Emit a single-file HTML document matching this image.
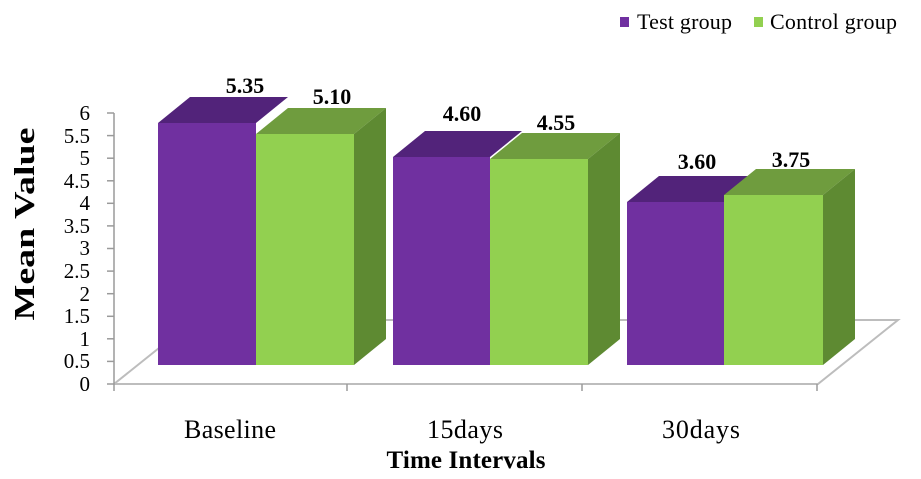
<!DOCTYPE html>
<html><head><meta charset="utf-8"><style>body{margin:0;background:#fff}svg{display:block}</style></head><body>
<svg width="921" height="479" viewBox="0 0 921 479" xmlns="http://www.w3.org/2000/svg" font-family="Liberation Serif, serif">
<g stroke="#bdbdbd" stroke-width="2" fill="none">
<polyline points="114,384 194,320 898,320 818,384 114,384"/>
</g>
<g stroke="#9a9a9a" stroke-width="1.5">
<line x1="114" y1="113" x2="114" y2="384"/>
<line x1="107" y1="113" x2="114" y2="113"/><line x1="107" y1="135.6" x2="114" y2="135.6"/><line x1="107" y1="158.2" x2="114" y2="158.2"/><line x1="107" y1="180.8" x2="114" y2="180.8"/><line x1="107" y1="203.3" x2="114" y2="203.3"/><line x1="107" y1="225.9" x2="114" y2="225.9"/><line x1="107" y1="248.5" x2="114" y2="248.5"/><line x1="107" y1="271.1" x2="114" y2="271.1"/><line x1="107" y1="293.7" x2="114" y2="293.7"/><line x1="107" y1="316.3" x2="114" y2="316.3"/><line x1="107" y1="338.8" x2="114" y2="338.8"/><line x1="107" y1="361.4" x2="114" y2="361.4"/><line x1="107" y1="384" x2="114" y2="384"/>
<line x1="114" y1="384" x2="114" y2="391"/><line x1="347" y1="384" x2="347" y2="391"/><line x1="582" y1="384" x2="582" y2="391"/><line x1="817" y1="384" x2="817" y2="391"/>
</g>
<g font-size="21" text-anchor="end" fill="#000">
<text x="90" y="120">6</text><text x="90" y="143">5.5</text><text x="90" y="165">5</text><text x="90" y="188">4.5</text><text x="90" y="210">4</text><text x="90" y="233">3.5</text><text x="90" y="255">3</text><text x="90" y="278">2.5</text><text x="90" y="301">2</text><text x="90" y="323">1.5</text><text x="90" y="346">1</text><text x="90" y="368">0.5</text><text x="90" y="391">0</text>
</g>
<g>
<polygon points="158,123 190,97 288,97 256,123" fill="#52237a"/>
<rect x="158" y="123" width="98" height="242" fill="#7030a0"/>
<polygon points="256,134 288,108 386,108 354,134" fill="#6f9c3e"/>
<polygon points="354,134 386,108 386,339 354,365" fill="#5e8a32"/>
<rect x="256" y="134" width="98" height="231" fill="#92d050"/>
<polygon points="393,157 425,131 522,131 490,157" fill="#52237a"/>
<rect x="393" y="157" width="97" height="208" fill="#7030a0"/>
<polygon points="490,159 522,133 620,133 588,159" fill="#6f9c3e"/>
<polygon points="588,159 620,133 620,339 588,365" fill="#5e8a32"/>
<rect x="490" y="159" width="98" height="206" fill="#92d050"/>
<polygon points="627,202 659,176 756,176 724,202" fill="#52237a"/>
<rect x="627" y="202" width="97" height="163" fill="#7030a0"/>
<polygon points="724,195 756,169 855,169 823,195" fill="#6f9c3e"/>
<polygon points="823,195 855,169 855,339 823,365" fill="#5e8a32"/>
<rect x="724" y="195" width="99" height="170" fill="#92d050"/>
</g>
<g font-size="22" font-weight="bold" text-anchor="middle">
<text x="245" y="93">5.35</text><text x="332" y="104">5.10</text>
<text x="462" y="121">4.60</text><text x="556" y="130">4.55</text>
<text x="697" y="169">3.60</text><text x="791" y="167">3.75</text>
</g>
<g font-size="26" text-anchor="middle">
<text x="230" y="438" textLength="92">Baseline</text><text x="465" y="438" textLength="76">15days</text><text x="701" y="438" textLength="78">30days</text>
</g>
<text x="466" y="468" font-size="25" font-weight="bold" text-anchor="middle" textLength="159">Time Intervals</text>
<text transform="translate(34,224) rotate(-90)" font-size="28" font-weight="bold" text-anchor="middle" textLength="193" lengthAdjust="spacingAndGlyphs">Mean Value</text>
<rect x="620" y="17" width="9" height="10" fill="#7030a0"/>
<text x="637" y="29" font-size="22" textLength="95">Test group</text>
<rect x="754" y="17" width="9" height="10" fill="#92d050"/>
<text x="770" y="29" font-size="22" textLength="127">Control group</text>
</svg>
</body></html>
